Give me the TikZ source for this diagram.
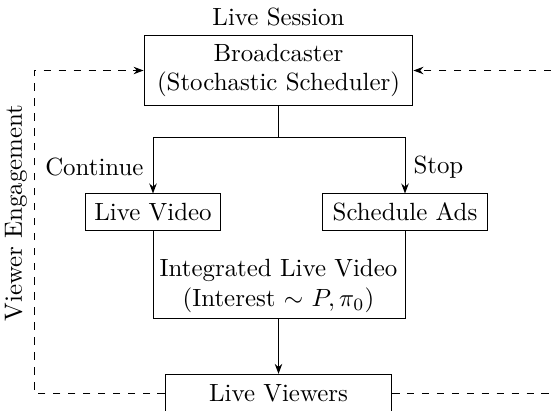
\documentclass[tikz,border=0pt]{standalone}
\usetikzlibrary{arrows.meta}
\begin{document}
\begin{tikzpicture}[x=0.4016pt,y=-0.4016pt,
  box/.style={draw,align=center,inner sep=0pt},
  lbl/.style={inner sep=0pt},
  arr/.style={-{Stealth[length=4pt,width=3pt]}},
  fb/.style={dashed}]
\useasboundingbox (0,0) rectangle (551,410);
\node[lbl] (sess) at (278.5,17) {Live Session};
\node[box,minimum width=108pt,minimum height=28.5pt] (bc) at (278.5,70.5) {Broadcaster\\(Stochastic Scheduler)};
\node[box,minimum width=54.6pt,minimum height=14.5pt] (lv) at (153,212) {Live Video};
\node[box,minimum width=66.1pt,minimum height=14.5pt] (sa) at (405,212) {Schedule Ads};
\node[box,draw=none] (intg) at (278.5,286) {Integrated Live Video\\(Interest $\sim$ $P, \pi_0$)};
\node[box,minimum width=90.8pt,minimum height=15pt] (vw) at (278.5,393) {Live Viewers};
\node[lbl,anchor=east] (cont) at (144,167) {Continue};
\node[lbl,anchor=west] (stop) at (413,167) {Stop};
\node[lbl,rotate=90] (eng) at (16,213) {Viewer Engagement};
\coordinate (split) at (278.5,137);
\coordinate (bot) at (278.5,318);
\coordinate (L) at (34,0);
\coordinate (R) at (551,0);
\draw (bc.south) -- (split);
\draw[arr] (split) -| (lv.north);
\draw[arr] (split) -| (sa.north);
\draw (lv.south) -- (lv.south |- bot) -- (sa.south |- bot) -- (sa.south);
\draw[arr] (bot) -- (vw.north);
\draw[fb,arr] (vw.west) -- (vw.west -| L) -- (bc.west -| L) -- (bc.west);
\draw[fb] (vw.east) -- (vw.east -| R);
\draw[fb,arr] (bc.east -| R) -- (bc.east);
\end{tikzpicture}
\end{document}
